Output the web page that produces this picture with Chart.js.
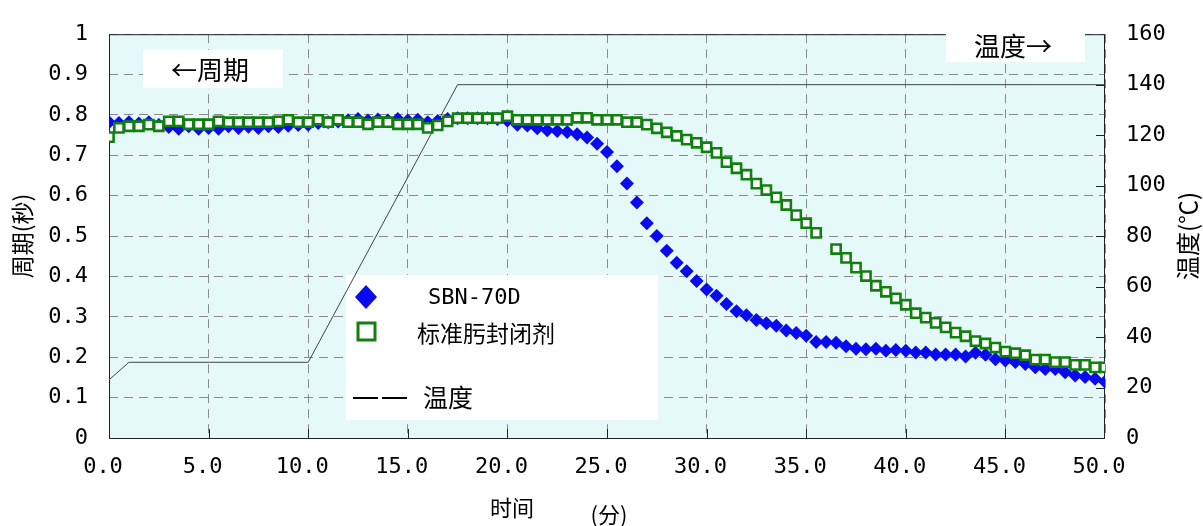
<!DOCTYPE html>
<html>
<head>
<meta charset="utf-8">
<script src="https://cdn.jsdelivr.net/npm/chart.js@4.4.0/dist/chart.umd.min.js"></script>
<style>
  html, body { margin: 0; padding: 0; background: #fff; }
  #wrap { width: 1203px; height: 526px; position: relative; }
</style>
</head>
<body>
<div id="wrap"><canvas id="chart"></canvas></div>
<script>
// ====== DATA ======
// sample times (min), every 0.5 min
const times = [
  0, 0.5, 1, 1.5, 2, 2.5, 3, 3.5, 4, 4.5, 5, 5.5, 6, 6.5, 7, 7.5, 8, 8.5, 9, 9.5,
  10, 10.5, 11, 11.5, 12, 12.5, 13, 13.5, 14, 14.5, 15, 15.5, 16, 16.5, 17, 17.5, 18, 18.5, 19, 19.5,
  20, 20.5, 21, 21.5, 22, 22.5, 23, 23.5, 24, 24.5, 25, 25.5, 26, 26.5, 27, 27.5, 28, 28.5, 29, 29.5,
  30, 30.5, 31, 31.5, 32, 32.5, 33, 33.5, 34, 34.5, 35, 35.5, 36, 36.5, 37, 37.5, 38, 38.5, 39, 39.5,
  40, 40.5, 41, 41.5, 42, 42.5, 43, 43.5, 44, 44.5, 45, 45.5, 46, 46.5, 47, 47.5, 48, 48.5, 49, 49.5,
  50
];

// period (s) - SBN-70D
const sbnPeriod = [
  0.782, 0.780, 0.782, 0.779, 0.782, 0.775, 0.770, 0.766, 0.772, 0.766,
  0.768, 0.766, 0.772, 0.768, 0.771, 0.768, 0.772, 0.770, 0.773, 0.775,
  0.776, 0.780, 0.782, 0.784, 0.787, 0.790, 0.786, 0.789, 0.786, 0.790,
  0.786, 0.788, 0.782, 0.785, 0.790, 0.792, 0.792, 0.792, 0.792, 0.790,
  0.786, 0.776, 0.774, 0.767, 0.762, 0.760, 0.758, 0.752, 0.744, 0.729,
  0.708, 0.673, 0.630, 0.583, 0.532, 0.500, 0.464, 0.434, 0.413, 0.389,
  0.368, 0.352, 0.332, 0.314, 0.304, 0.292, 0.284, 0.278, 0.266, 0.260,
  0.253, 0.238, 0.238, 0.236, 0.227, 0.221, 0.220, 0.221, 0.216, 0.218,
  0.216, 0.212, 0.212, 0.207, 0.207, 0.207, 0.202, 0.211, 0.206, 0.195,
  0.192, 0.188, 0.183, 0.175, 0.171, 0.171, 0.163, 0.155, 0.151, 0.147,
  0.139
];

// period (s) - standard oxime blocking agent (no reading at 36.0)
const oximePeriod = [
  0.745, 0.768, 0.772, 0.772, 0.776, 0.772, 0.784, 0.784, 0.777, 0.777,
  0.777, 0.784, 0.782, 0.782, 0.782, 0.782, 0.782, 0.784, 0.788, 0.782,
  0.782, 0.788, 0.782, 0.788, 0.782, 0.782, 0.777, 0.782, 0.782, 0.777,
  0.777, 0.777, 0.768, 0.774, 0.784, 0.792, 0.792, 0.792, 0.792, 0.792,
  0.797, 0.788, 0.788, 0.788, 0.788, 0.788, 0.788, 0.793, 0.793, 0.788,
  0.788, 0.788, 0.782, 0.782, 0.776, 0.767, 0.757, 0.748, 0.739, 0.731,
  0.720, 0.706, 0.683, 0.668, 0.652, 0.630, 0.614, 0.596, 0.577, 0.552,
  0.532, 0.508, null, 0.468, 0.446, 0.422, 0.401, 0.377, 0.362, 0.346,
  0.330, 0.309, 0.298, 0.285, 0.274, 0.261, 0.252, 0.240, 0.234, 0.224,
  0.214, 0.210, 0.205, 0.194, 0.194, 0.188, 0.188, 0.181, 0.181, 0.175,
  0.175
];

// oven temperature program (°C)
const tempTimes = [0, 1, 10, 17.5, 50];
const tempValues = [23, 30, 30, 140, 140];

// axis tick values
const xTicks = [0, 5, 10, 15, 20, 25, 30, 35, 40, 45, 50];
const periodTicks = [0, 0.1, 0.2, 0.3, 0.4, 0.5, 0.6, 0.7, 0.8, 0.9, 1];
const tempTicks = [0, 20, 40, 60, 80, 100, 120, 140, 160];

// ====== STYLE ======
const CJK = '"Noto Sans CJK SC", "Noto Sans CJK JP", sans-serif';
const MONO = '"DejaVu Sans Mono", "Liberation Mono", monospace';
const BLUE = '#0a0aee';
const GREEN = '#118011';
const GRID = '#8a8a8a';

const toPoints = (xs, ys) => xs.map((x, i) => ({ x: x, y: ys[i] })).filter(p => p.y !== null);

// ====== PLUGIN: background, boxes, legend, titles ======
const decor = {
  id: 'decor',
  beforeDraw(chart) {
    const { ctx, chartArea: a } = chart;
    ctx.save();
    ctx.fillStyle = '#e6f9f9';
    ctx.fillRect(a.left, a.top, a.right - a.left, a.bottom - a.top);
    ctx.restore();
  },
  beforeDatasetsDraw(chart) {
    const { ctx, chartArea: a, scales } = chart;
    ctx.save();
    // plot frame
    ctx.strokeStyle = '#222';
    ctx.lineWidth = 1;
    ctx.strokeRect(a.left + 0.5, a.top + 0.5, a.right - a.left - 1, a.bottom - a.top);
    // inner tick marks (bottom and right)
    ctx.beginPath();
    xTicks.slice(1, -1).forEach(v => {
      const px = Math.round(scales.x.getPixelForValue(v)) + 0.5;
      ctx.moveTo(px, a.bottom); ctx.lineTo(px, a.bottom - 9);
    });
    tempTicks.slice(1, -1).forEach(v => {
      const py = Math.round(scales.y1.getPixelForValue(v)) + 0.5;
      ctx.moveTo(a.right, py); ctx.lineTo(a.right - 9, py);
    });
    ctx.stroke();

    // white label boxes
    ctx.fillStyle = '#fff';
    ctx.fillRect(143, 50, 140, 38);
    ctx.fillRect(946, 26, 139, 36);
    ctx.fillRect(346, 275, 312, 145);

    ctx.fillStyle = '#000';
    ctx.textBaseline = 'middle';
    ctx.textAlign = 'left';
    ctx.font = '26px ' + CJK;
    ctx.fillText('←周期', 171, 70);
    ctx.fillText('温度→', 974, 46);

    // legend
    ctx.fillStyle = BLUE;
    ctx.beginPath();
    ctx.moveTo(366, 285); ctx.lineTo(377, 297); ctx.lineTo(366, 309); ctx.lineTo(355, 297);
    ctx.closePath();
    ctx.fill();
    ctx.strokeStyle = GREEN;
    ctx.lineWidth = 3;
    ctx.strokeRect(358, 323, 17, 17);
    ctx.strokeStyle = '#000';
    ctx.lineWidth = 2;
    ctx.beginPath();
    ctx.moveTo(353, 398); ctx.lineTo(378, 398);
    ctx.moveTo(382, 398); ctx.lineTo(407, 398);
    ctx.stroke();

    ctx.fillStyle = '#000';
    ctx.font = '22px ' + MONO;
    ctx.fillText('SBN-70D', 428, 298);
    ctx.font = '23px ' + CJK;
    ctx.fillText('标准肟封闭剂', 417, 333);
    ctx.font = '25px ' + CJK;
    ctx.fillText('温度', 423, 397);
    ctx.restore();
  },
  afterDraw(chart) {
    const { ctx } = chart;
    ctx.save();
    ctx.fillStyle = '#000';
    ctx.textBaseline = 'middle';
    ctx.textAlign = 'center';
    ctx.font = '22px ' + CJK;
    ctx.fillText('时间', 512, 508);
    ctx.fillText('(分)', 609, 515);
    ctx.translate(1188, 236);
    ctx.rotate(-Math.PI / 2);
    ctx.font = '24px ' + CJK;
    ctx.fillText('温度(℃)', 0, 0);
    ctx.restore();
  }
};

// ====== CHART ======
const chart = new Chart(document.getElementById('chart'), {
  type: 'line',
  data: {
    datasets: [
      {
        label: '标准肟封闭剂',
        data: toPoints(times, oximePeriod),
        yAxisID: 'y',
        showLine: false,
        pointStyle: 'rect',
        pointRadius: 6.5,
        pointBorderWidth: 2.6,
        pointBorderColor: GREEN,
        pointBackgroundColor: '#fff',
        order: 0
      },
      {
        label: 'SBN-70D',
        data: toPoints(times, sbnPeriod),
        yAxisID: 'y',
        showLine: false,
        pointStyle: 'rectRot',
        pointRadius: 7,
        pointBorderWidth: 0,
        pointBackgroundColor: BLUE,
        order: 1
      },
      {
        label: '温度',
        data: toPoints(tempTimes, tempValues),
        yAxisID: 'y1',
        borderColor: '#444',
        borderWidth: 1,
        pointRadius: 0,
        tension: 0,
        order: 2
      }
    ]
  },
  options: {
    responsive: true,
    maintainAspectRatio: false,
    animation: false,
    layout: { padding: { top: 22, left: 0, right: 0, bottom: 0 } },
    plugins: { legend: { display: false }, tooltip: { enabled: false } },
    scales: {
      x: {
        type: 'linear',
        min: 0, max: 50,
        afterFit: s => { s.height = 88; },
        afterBuildTicks: s => { s.ticks = xTicks.map(v => ({ value: v })); },
        ticks: {
          font: { family: MONO, size: 22 },
          color: '#000',
          padding: 16,
          labelOffset: -6,
          maxRotation: 0,
          callback: v => Number(v).toFixed(1)
        },
        grid: { color: GRID, lineWidth: 1, drawTicks: false },
        border: { display: false, dash: [9, 6] }
      },
      y: {
        position: 'left',
        min: 0, max: 1,
        afterFit: s => { s.width = 109; },
        afterBuildTicks: s => { s.ticks = periodTicks.map(v => ({ value: v })); },
        ticks: {
          font: { family: MONO, size: 22 },
          color: '#000',
          padding: 21,
          callback: v => (v === 0 || v === 1) ? String(v) : Number(v).toFixed(1)
        },
        grid: { color: GRID, lineWidth: 1, drawTicks: false },
        border: { display: false, dash: [9, 6] },
        title: {
          display: true,
          text: '周期(秒)',
          color: '#000',
          font: { family: CJK, size: 23 },
          padding: { top: 8, bottom: 0 }
        }
      },
      y1: {
        position: 'right',
        min: 0, max: 160,
        afterFit: s => { s.width = 98; },
        afterBuildTicks: s => { s.ticks = tempTicks.map(v => ({ value: v })); },
        ticks: {
          font: { family: MONO, size: 22 },
          color: '#000',
          padding: 21
        },
        grid: { display: false, drawTicks: false },
        border: { display: false }
      }
    }
  },
  plugins: [decor]
});
</script>
</body>
</html>
